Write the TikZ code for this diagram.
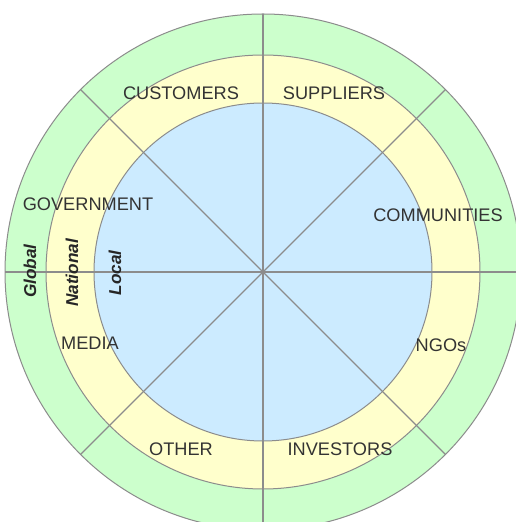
\documentclass[tikz,border=0pt]{standalone}
\usepackage{fontspec}
\setmainfont{Liberation Sans}
\begin{document}
\begin{tikzpicture}[x=1pt,y=1pt,
  ring/.style={draw=black!45, line width=1pt},
  spoke/.style={draw=black!45, line width=1.1pt},
  group/.style={font=\fontsize{18.2}{19}\selectfont, text=black!80, inner sep=0pt},
  level/.style={font=\fontsize{17.2}{19}\selectfont\bfseries\itshape, text=black!85, inner sep=0pt, rotate=90}]
\definecolor{globalgreen}{HTML}{CCFFCC}
\definecolor{nationalyellow}{HTML}{FFFFCC}
\definecolor{localblue}{HTML}{CCEBFF}
\useasboundingbox (0,0) rectangle (516,522);
\clip (0,0) rectangle (516,522);
\fill[white] (0,0) rectangle (516,522);
\coordinate (c) at (263,250);
% concentric levels
\filldraw[ring, fill=globalgreen] (c) circle (258);
\filldraw[ring, fill=nationalyellow] (c) circle (217);
\filldraw[ring, fill=localblue] (c) circle (169);
% dividing spokes
\foreach \a in {0,45,...,315}
  \draw[spoke] (c) -- ++(\a:258);
% stakeholder groups
\node[group] (customers) at (181,429) {CUSTOMERS};
\node[group] (suppliers) at (334,429) {SUPPLIERS};
\node[group] (government) at (88,318) {GOVERNMENT};
\node[group] (communities) at (438,307) {COMMUNITIES};
\node[group] (media) at (90,179) {MEDIA};
\node[group] (ngos) at (441,177) {NGOs};
\node[group] (other) at (181,73) {OTHER};
\node[group] (investors) at (340,73) {INVESTORS};
% level names
\node[level] (global) at (30,251) {Global};
\node[level] (national) at (72,249) {National};
\node[level] (local) at (115,249) {Local};
\end{tikzpicture}
\end{document}
